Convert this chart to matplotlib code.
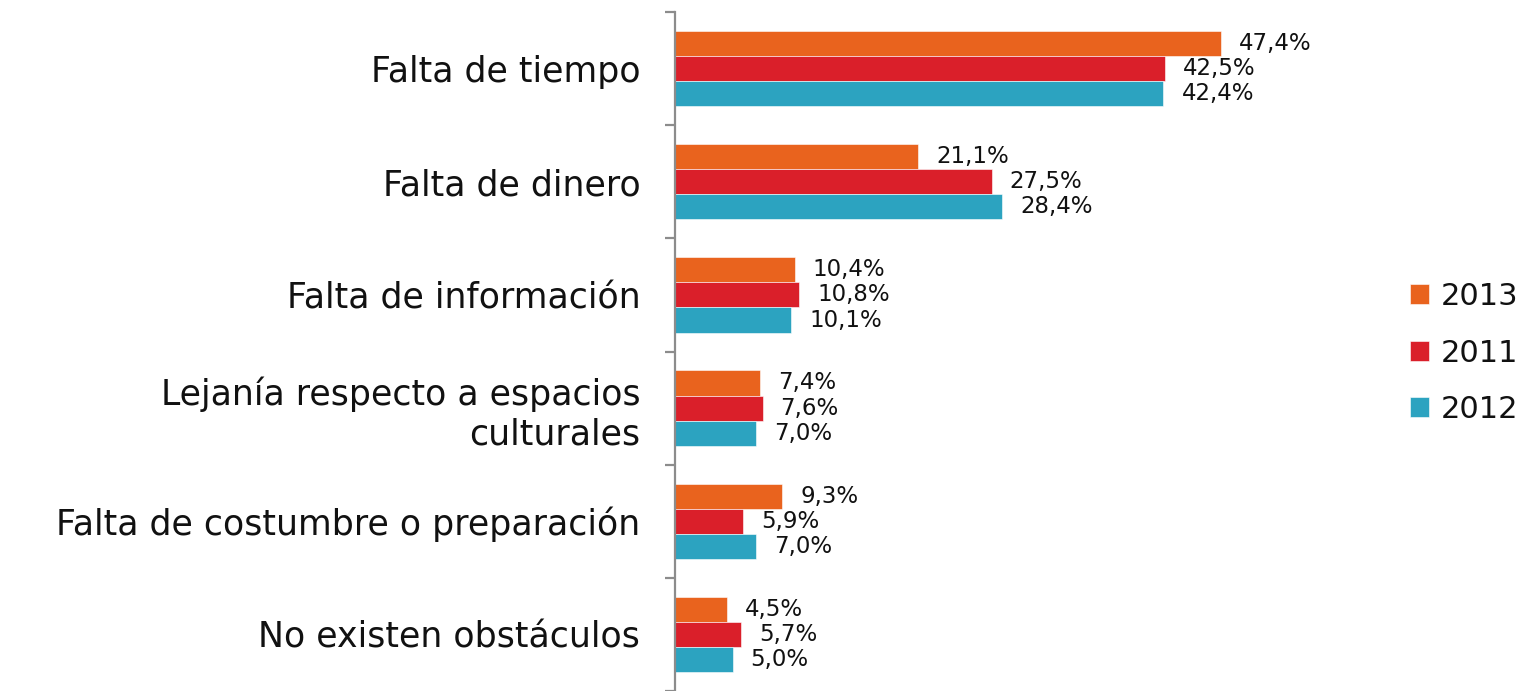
import matplotlib
matplotlib.use("Agg")
import matplotlib.pyplot as plt
import numpy as np

## Data
categories = ["Falta de tiempo", "Falta de dinero", "Falta de información",
              "Lejanía respecto a espacios\nculturales",
              "Falta de costumbre o preparación", "No existen obstáculos"]
years = ["2013", "2011", "2012"]
vals_2013 = [47.4, 21.1, 10.4, 7.4, 9.3, 4.5]
vals_2011 = [42.5, 27.5, 10.8, 7.6, 5.9, 5.7]
vals_2012 = [42.4, 28.4, 10.1, 7.0, 7.0, 5.0]
colors = ["#E9631E", "#DA1F2A", "#2CA3C0"]

plt.rcParams['font.family'] = ['DejaVu Sans']

fig = plt.figure(figsize=(15.35, 6.91), dpi=100)
ax = fig.add_axes([675/1535, 0.0, 645/1535, 1 - 12/691])

y = np.arange(len(categories))
h = 0.222
series = [vals_2013, vals_2011, vals_2012]
for k, (vals, col, yr) in enumerate(zip(series, colors, years)):
    pos = y + (k - 1) * h
    bars = ax.barh(pos, vals, height=h, color=col, edgecolor="white",
                   linewidth=0.4, label=yr)
    for p, v in zip(pos, vals):
        ax.annotate(f"{v:.1f}%".replace(".", ","), (v, p), xytext=(13, 0),
                    textcoords="offset points", va="center", ha="left",
                    fontsize=16.5, color="#111111")

ax.set_xlim(0, 56)
ax.set_ylim(len(categories) - 0.5, -0.5)

for s in ["top", "right", "bottom"]:
    ax.spines[s].set_visible(False)
ax.spines["left"].set_color("#8C8C8C")
ax.spines["left"].set_linewidth(1.6)
ax.set_xticks([])

# ticks at category boundaries, labels at centres
ax.set_yticks(np.arange(-0.5, len(categories), 1.0))
ax.set_yticklabels([])
ax.tick_params(axis="y", which="major", length=7, width=1.6, color="#8C8C8C",
               direction="out")
ax.set_yticks(y, minor=True)
ax.set_yticklabels(categories, minor=True, fontsize=25, ha="right",
                   multialignment="right", color="#111111")
ax.tick_params(axis="y", which="minor", length=0, pad=25)

leg = ax.legend(loc="center left", bbox_to_anchor=(1382/1535, 1 - 353/691),
                bbox_transform=fig.transFigure, frameon=False, fontsize=22,
                handlelength=0.65, handleheight=0.65, handletextpad=0.36,
                labelspacing=0.9)
for t in leg.get_texts():
    t.set_color("#111111")

fig.savefig("out.png", dpi=100)
